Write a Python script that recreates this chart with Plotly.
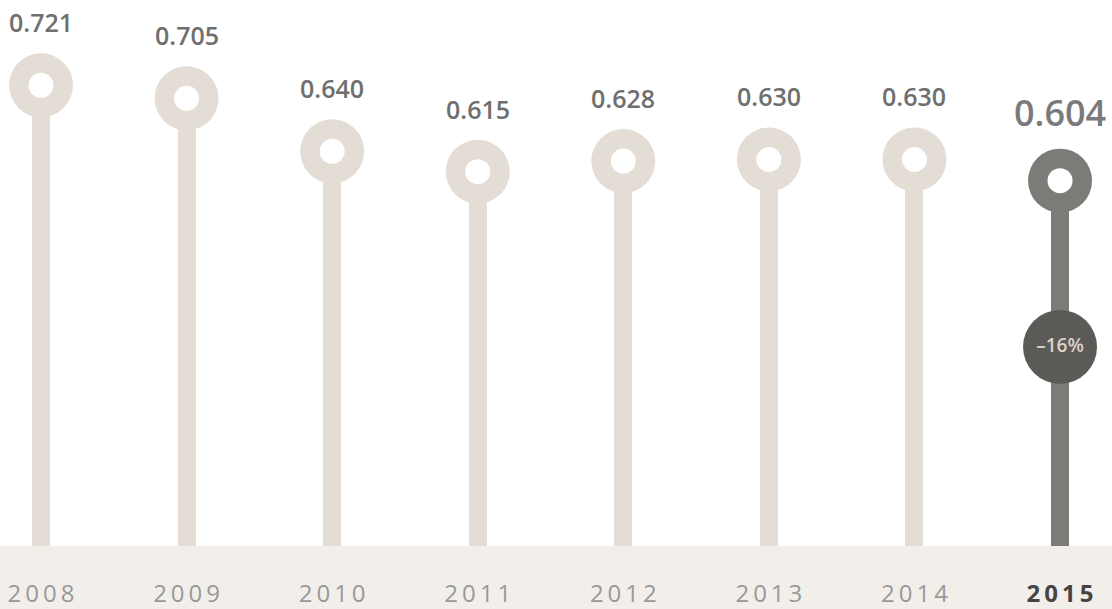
import plotly.graph_objects as go

years = ["2008", "2009", "2010", "2011", "2012", "2013", "2014", "2015"]
values = [0.721, 0.705, 0.640, 0.615, 0.628, 0.630, 0.630, 0.604]
value_labels = ["0.721", "0.705", "0.640", "0.615", "0.628", "0.630", "0.630", "0.604"]
change_label = "–16%"
change_y = 0.40

Y_MIN, Y_MAX = 0.1557, 0.8257
X_MIN, X_MAX = -0.2817, 7.357

LIGHT = "#e4ddd5"
DARK = "#7d7b77"
BADGE = "#5b5a56"
BAND = "#f2efeb"

n = len(years)
xs = list(range(n))
last = n - 1
colors = [LIGHT] * last + [DARK]

fig = go.Figure()

# stems
fig.add_trace(go.Bar(
    x=xs, y=[v - Y_MIN for v in values], base=[Y_MIN] * n,
    width=0.1237, marker=dict(color=colors, line=dict(width=0)),
    hoverinfo="skip", showlegend=False,
))
# rings
fig.add_trace(go.Scatter(
    x=xs, y=values, mode="markers",
    marker=dict(size=64, color=colors, line=dict(width=0)),
    hoverinfo="skip", showlegend=False,
))
fig.add_trace(go.Scatter(
    x=xs, y=values, mode="markers",
    marker=dict(size=25, color="white", line=dict(width=0)),
    hoverinfo="skip", showlegend=False,
))
# change badge
fig.add_trace(go.Scatter(
    x=[last], y=[change_y], mode="markers+text",
    marker=dict(size=74, color=BADGE, line=dict(width=0)),
    text=[change_label], textposition="middle center",
    textfont=dict(family="Open Sans", size=19, color="#ddd3c6", weight=600),
    hoverinfo="skip", showlegend=False,
))

# value labels
for i, (v, lab) in enumerate(zip(values, value_labels)):
    big = i == last
    fig.add_annotation(
        x=i, y=v, text=lab, showarrow=False,
        xanchor="center", yanchor="middle",
        yshift=68 if big else 63,
        font=dict(family="Open Sans", size=36 if big else 25,
                  color="#7a7a7a" if big else "#6f6f6f", weight=600),
    )

thin = "\u2009"
ticktext = []
for i, y in enumerate(years):
    if i == last:
        ticktext.append("<b><span style='color:#444444'>" + thin.join(y) + "</span></b>")
    else:
        ticktext.append(thin.join(y))

fig.add_shape(type="rect", xref="paper", yref="paper",
              x0=0, x1=1, y0=-63 / 546, y1=0,
              fillcolor=BAND, line=dict(width=0), layer="below")

fig.update_layout(
    width=1112, height=609,
    margin=dict(l=0, r=0, t=0, b=63),
    paper_bgcolor="white", plot_bgcolor="white",
    bargap=0,
    xaxis=dict(range=[X_MIN, X_MAX], tickvals=xs, ticktext=ticktext,
               showgrid=False, zeroline=False, showline=False, ticks="",
               ticklabelstandoff=31,
               tickfont=dict(family="Open Sans", size=24, color="#999999")),
    yaxis=dict(range=[Y_MIN, Y_MAX], visible=False, showgrid=False, zeroline=False),
)

fig.write_html(
    "out.html",
    config={"displayModeBar": False, "staticPlot": True},
    post_script="document.body.style.margin='0';document.body.style.overflow='hidden';",
)
